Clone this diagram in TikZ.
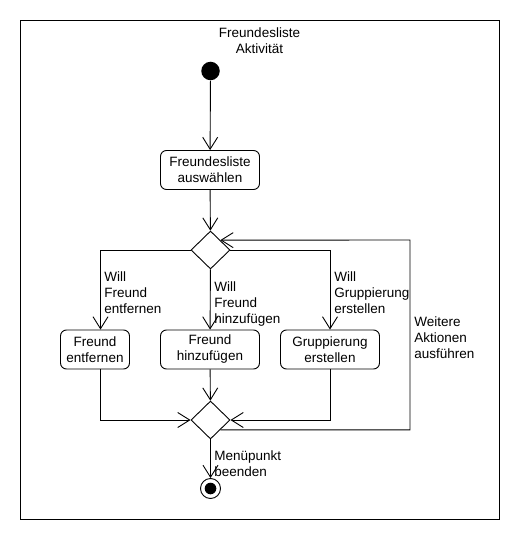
\documentclass[tikz,border=0pt]{standalone}
\usepackage{fontspec}
\setmainfont{Liberation Sans}
\usetikzlibrary{shapes.geometric, arrows.meta}

\begin{document}
\begin{tikzpicture}[x=1pt, y=-1pt, line width=0.9pt, font=\fontsize{13.5pt}{16pt}\selectfont, >={Straight Barb[length=12pt, width=15pt]}]
    	\tikzstyle{action}=[draw=black, rounded corners=6pt, minimum height=39pt, inner sep=2pt, align=center]
    	\tikzstyle{choice}=[diamond, draw=black, minimum width=39pt, minimum height=38pt, inner sep=0pt]
    	\tikzstyle{guard}=[anchor=north west, inner sep=0pt, align=left]
    	
    	\useasboundingbox (0,0) rectangle (520,540);
    	\draw (20,20) rectangle (499,519);
    	\node at (259.5, 41) [align=center] (title) {Freundesliste\\Aktivität};
    	
    	% Start
    	\node at (210.5, 71) [circle, fill=black, minimum size=18.5pt, inner sep=0pt] (start) {};
    	\node at (210, 170) [action, minimum width=99pt] (pick) {Freundesliste\\auswählen};
    	
    	% Decision
    	\node at (210.5, 250) [choice] (split) {};
    	
    	% Actions
    	\node at (95, 349.5) [action, minimum width=69pt] (remove) {Freund\\entfernen};
    	\node at (210, 349.5) [action, minimum width=99pt] (add) {Freund\\hinzufügen};
    	\node at (330, 349.5) [action, minimum width=99pt] (group) {Gruppierung\\erstellen};
    	
    	% Merge and end
    	\node at (210.5, 420) [choice] (merge) {};
    	\node at (210.5, 488.5) [circle, draw=black, minimum size=20pt, inner sep=0pt, path picture={\fill (path picture bounding box.center) circle (5.8pt);}] (final) {};
    	\coordinate (loop) at (410, 240);
    	
    	% Guards
    	\node at (104, 271.5) [guard] (g_remove) {Will\\Freund\\entfernen};
    	\node at (214, 281.5) [guard] (g_add) {Will\\Freund\\hinzufügen};
    	\node at (334, 271.5) [guard] (g_group) {Will\\Gruppierung\\erstellen};
    	\node at (414, 316.5) [guard] (g_loop) {Weitere\\Aktionen\\ausführen};
    	\node at (214, 450.5) [guard] (g_end) {Menüpunkt\\beenden};
    	
    	\draw [->]  (start) to (pick);
    	\draw [->]  (pick) to (split);
    	
    	\draw [->]  (split.west) -| ([xshift=5.5pt]remove.north);
    	\draw [->]  (split) to (add);
    	\draw [->]  (split.east) -| (group);
    	
    	\draw [->]  ([xshift=5.5pt]remove.south) |- (merge.west);
    	\draw [->]  (add) to (merge);
    	\draw [->]  (group) |- (merge.east);
    	
    	\draw [->]  (merge.-45) -| (loop) -- (split.45);
    	\draw [->]  (merge) to (final);

    \end{tikzpicture}
\end{document}
